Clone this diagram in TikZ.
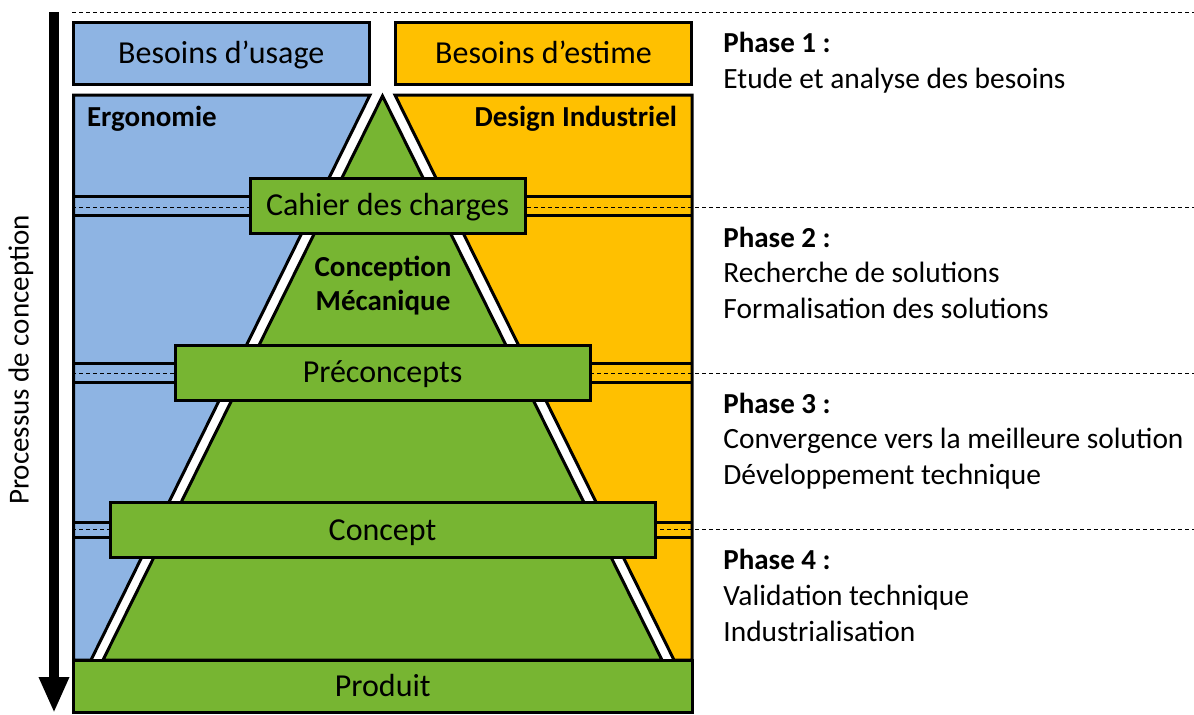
\documentclass[tikz,border=0pt]{standalone}
\usepackage{fontspec}
\setmainfont{Carlito}
\usetikzlibrary{arrows.meta}
\definecolor{bleu}{RGB}{142,180,227}
\definecolor{jaune}{RGB}{255,192,0}
\definecolor{vert}{RGB}{119,181,50}
\tikzset{
  bord/.style={draw=black,line width=1.5pt},
  boite/.style={bord,fill=vert,minimum height=27.5pt,inner sep=0pt,text height=10.3pt,text depth=0pt,font=\fontsize{16}{19}\selectfont},
  tete/.style={bord,minimum width=147.75pt,minimum height=31pt,inner sep=0pt,text height=10.3pt,text depth=0pt,font=\fontsize{16}{19}\selectfont},
  titre/.style={font=\fontsize{14.5}{17}\selectfont\bfseries},
  txt/.style={font=\fontsize{14.7}{17}\selectfont,anchor=base west,inner sep=0pt},
  tirets/.style={dash pattern=on 2pt off 1.5pt,line width=0.5pt}
}
\begin{document}
\begin{tikzpicture}[x=0.5pt,y=-0.5pt]
    \useasboundingbox (0,0) rectangle (1194,714);
    \draw[bord,fill=bleu] (73.5,95) -- (370,95) -- (91,660) -- (73.5,660) -- cycle;
    \draw[bord,fill=jaune] (395,95) -- (692,95) -- (692,660) -- (674,660) -- cycle;
    \foreach \y in {196,215,363,382,522,537} \draw[bord] (73.5,\y) -- (692,\y);
    \foreach \n/\y in {1/12,2/207,3/373,4/529} {
        \draw[tirets] (72,\y) -- (1194,\y);
        \node[titre,anchor=base west,inner sep=0pt] (ph\n) at (723,\y+40) {Phase \n\ :};
    }
    \foreach \nom/\y/\t in {d1/88/Etude et analyse des besoins,d2a/282/Recherche de solutions,d2b/318/Formalisation des solutions,d3a/448/Convergence vers la meilleure solution,d3b/484/Développement technique,d4a/605/Validation technique,d4b/641/Industrialisation}
        \node[txt] (\nom) at (723,\y) {\t};
    \draw[bord,fill=vert] (382.5,96) -- (662,660) -- (103,660) -- cycle;
    \node[titre,align=center] (meca) at (383,286) {Conception\\Mécanique};
    \node[tete,fill=bleu] (usage) at (221.25,53) {Besoins d’usage};
    \node[tete,fill=jaune] (estime) at (543.5,53) {Besoins d’estime};
    \node[titre,anchor=west] (ergo) at (80,119) {Ergonomie};
    \node[titre,anchor=east] (design) at (684,119) {Design Industriel};
    \node[boite,minimum width=137.5pt] (cahier) at (387.5,205.5) {Cahier des charges};
    \node[boite,minimum width=207.5pt] (precon) at (382.5,372.5) {Préconcepts};
    \node[boite,minimum width=272.5pt] (concept) at (382.5,530) {Concept};
    \node[boite,minimum width=309.25pt,minimum height=26pt] (produit) at (382.75,686) {Produit};
    \coordinate (haut) at (54,12);
    \coordinate (bas) at (54,713);
    \draw[line width=4.85pt,-{Triangle[length=18pt,width=14pt]}] (haut) -- (bas);
    \node[rotate=90,font=\fontsize{14.5}{17}\selectfont] (processus) at (21,360) {Processus de conception};
\end{tikzpicture}
\end{document}
